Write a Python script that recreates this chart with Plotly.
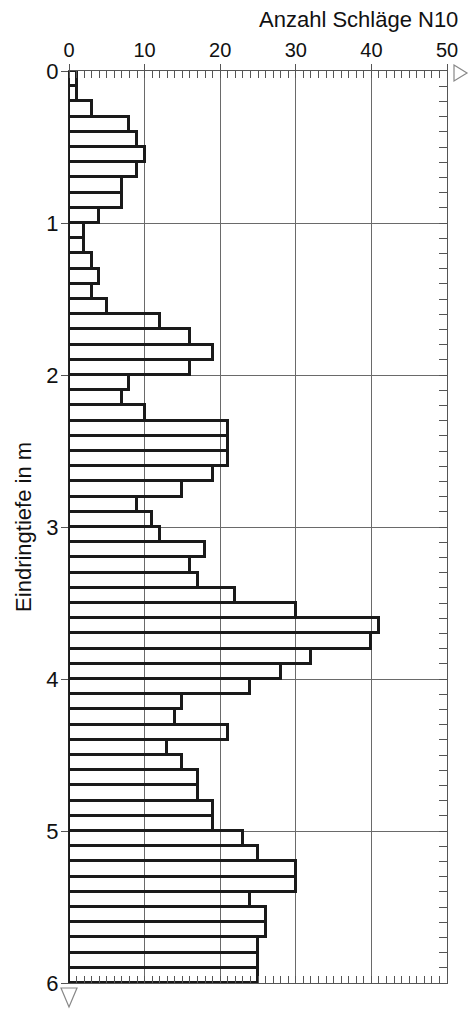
import plotly.graph_objects as go

# Penetration test DPL: blow count per 10 cm over penetration depth
depth_top_m = [0.0, 0.1, 0.2, 0.3, 0.4, 0.5, 0.6, 0.7, 0.8, 0.9,
               1.0, 1.1, 1.2, 1.3, 1.4, 1.5, 1.6, 1.7, 1.8, 1.9,
               2.0, 2.1, 2.2, 2.3, 2.4, 2.5, 2.6, 2.7, 2.8, 2.9,
               3.0, 3.1, 3.2, 3.3, 3.4, 3.5, 3.6, 3.7, 3.8, 3.9,
               4.0, 4.1, 4.2, 4.3, 4.4, 4.5, 4.6, 4.7, 4.8, 4.9,
               5.0, 5.1, 5.2, 5.3, 5.4, 5.5, 5.6, 5.7, 5.8, 5.9]
n10 = [1, 1, 3, 8, 9, 10, 9, 7, 7, 4,
       2, 2, 3, 4, 3, 5, 12, 16, 19, 16,
       8, 7, 10, 21, 21, 21, 19, 15, 9, 11,
       12, 18, 16, 17, 22, 30, 41, 40, 32, 28,
       24, 15, 14, 21, 13, 15, 17, 17, 19, 19,
       23, 25, 30, 30, 24, 26, 26, 25, 25, 25]
interval_m = 0.1

x_ticks = [0, 10, 20, 30, 40, 50]
y_ticks = [0, 1, 2, 3, 4, 5, 6]
x_max = 50
y_max = 6

x_title = "Anzahl Schläge N10"
y_title = "Eindringtiefe in m"

FONT = "Liberation Sans, Arial, sans-serif"
AXIS_GREY = "#555555"
GRID_GREY = "#6a6a6a"

centers = [d + interval_m / 2 for d in depth_top_m]

fig = go.Figure()
fig.add_trace(go.Bar(
    x=n10, y=centers, orientation="h", width=interval_m,
    marker=dict(color="rgba(0,0,0,0)", line=dict(color="#1a1a1a", width=3)),
    showlegend=False, hoverinfo="x+y",
))

# helper trace that only carries the extra axes (bottom and right)
fig.add_trace(go.Scatter(x=[None], y=[None], xaxis="x2", yaxis="y2",
                         showlegend=False, hoverinfo="skip"))

fig.update_layout(
    width=475, height=1010,
    margin=dict(l=69, r=28, t=71, b=27),
    paper_bgcolor="white", plot_bgcolor="white",
    font=dict(family=FONT, color="#111111"),
    bargap=0,
    xaxis=dict(
        side="top", range=[0, x_max], tickvals=x_ticks,
        ticks="outside", ticklen=6, tickcolor=AXIS_GREY, tickwidth=1,
        tickfont=dict(size=20, family=FONT, color="#111111"),
        ticklabelstandoff=-1,
        showgrid=True, gridcolor=GRID_GREY, gridwidth=1,
        showline=True, linecolor=AXIS_GREY, linewidth=1,
        zeroline=False,
        minor=dict(ticks="inside", dtick=1, ticklen=7, tickcolor=AXIS_GREY,
                   tickwidth=1, showgrid=False),
    ),
    xaxis2=dict(
        overlaying="x", side="bottom", anchor="y", range=[0, x_max],
        tick0=0, dtick=1, ticks="inside", ticklen=7, tickcolor=AXIS_GREY,
        showticklabels=False, showgrid=False, zeroline=False,
        showline=True, linecolor=AXIS_GREY, linewidth=1,
    ),
    yaxis=dict(
        range=[y_max, 0], tickvals=y_ticks,
        ticks="outside", ticklen=7, tickcolor=AXIS_GREY, tickwidth=1,
        tickfont=dict(size=22, family=FONT, color="#111111"),
        ticklabelstandoff=-2,
        showgrid=True, gridcolor=GRID_GREY, gridwidth=1,
        showline=True, linecolor="#222222", linewidth=1,
        zeroline=False,
    ),
    yaxis2=dict(
        overlaying="y", side="right", anchor="x", range=[y_max, 0],
        tick0=0, dtick=interval_m, ticks="inside", ticklen=8,
        tickcolor=AXIS_GREY, showticklabels=False, showgrid=False,
        zeroline=False, showline=True, linecolor=AXIS_GREY, linewidth=1,
    ),
    annotations=[
        dict(text=x_title, xref="paper", yref="paper", x=1.034, y=1.056,
             xanchor="right", yanchor="middle", showarrow=False,
             font=dict(size=22, family=FONT, color="#111111")),
        dict(text=y_title, xref="paper", yref="paper", x=-0.122, y=0.5,
             xanchor="center", yanchor="middle", textangle=-90,
             showarrow=False,
             font=dict(size=22, family=FONT, color="#111111")),
    ],
    shapes=[
        # arrow head at the right end of the blow-count axis (top-right corner)
        dict(type="path", xref="paper", yref="paper", xsizemode="pixel",
             ysizemode="pixel", xanchor=1, yanchor=1,
             path="M 7 6 L 20 -2 L 7 -10 Z",
             line=dict(color="#888888", width=1.2), fillcolor="white"),
        # arrow head at the lower end of the depth axis (bottom-left corner)
        dict(type="path", xref="paper", yref="paper", xsizemode="pixel",
             ysizemode="pixel", xanchor=0, yanchor=0,
             path="M -8 -5 L 8 -5 L 0 -24 Z",
             line=dict(color="#888888", width=1.2), fillcolor="white"),
    ],
)

fig.write_html("out.html")
